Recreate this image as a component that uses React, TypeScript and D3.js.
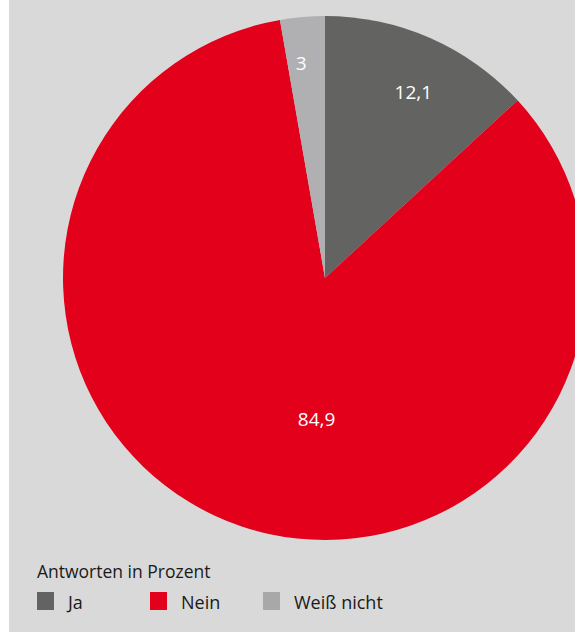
import React from "react";
import * as d3 from "d3";

const categories = ["Ja", "Nein", "Weiß nicht"];
// slice sizes as drawn in the picture (degrees, in percent)
const values = [13.14, 84.11, 2.75];
const labels = ["12,1", "84,9", "3"];
const colors = ["#636361", "#e2001a", "#b0b0b2"];
const legendColors = ["#636363", "#e2001a", "#a8a8a8"];
const labelRadiusFrac = [0.786, 0.54, 0.826];
const labelAngleShiftDeg = [1.75, -15.3, -1.4];
const legendTitle = "Antworten in Prozent";

const W = 575;
const H = 632;
const cx = 325;
const cy = 278;
const R = 262;
const FONT = "'Open Sans', 'Noto Sans', sans-serif";

export default function App() {
  const pie = d3.pie<number>().sort(null).value((d) => d)(values);
  const arc = d3.arc<d3.PieArcDatum<number>>().innerRadius(0).outerRadius(R);
  const legendX = [37, 150, 263];
  return (
    <svg width={W} height={H} style={{ position: "absolute", left: 0, top: 0 }}>
      <rect x={9} y={0} width={W - 9} height={H} fill="#d9d9d9" />
      <g transform={`translate(${cx},${cy})`}>
        {pie.map((p, i) => (
          <path key={i} d={arc(p) || ""} fill={colors[i]} />
        ))}
        {pie.map((p, i) => {
          const a = (p.startAngle + p.endAngle) / 2 + (labelAngleShiftDeg[i] * Math.PI) / 180;
          const r = R * labelRadiusFrac[i];
          const x = Math.sin(a) * r;
          const y = -Math.cos(a) * r;
          return (
            <text
              key={i}
              x={x}
              y={y + 7}
              textAnchor="middle"
              fill="#ffffff"
              fontFamily={FONT}
              fontSize={19}
            >
              {labels[i]}
            </text>
          );
        })}
      </g>
      <text x={37} y={578} fontFamily={FONT} fontSize={17.5} fill="#1a1a1a">
        {legendTitle}
      </text>
      {categories.map((c, i) => (
        <g key={c}>
          <rect x={legendX[i]} y={592} width={17} height={18} fill={legendColors[i]} />
          <text x={legendX[i] + 31} y={609} fontFamily={FONT} fontSize={18} fill="#1a1a1a">
            {c}
          </text>
        </g>
      ))}
    </svg>
  );
}
